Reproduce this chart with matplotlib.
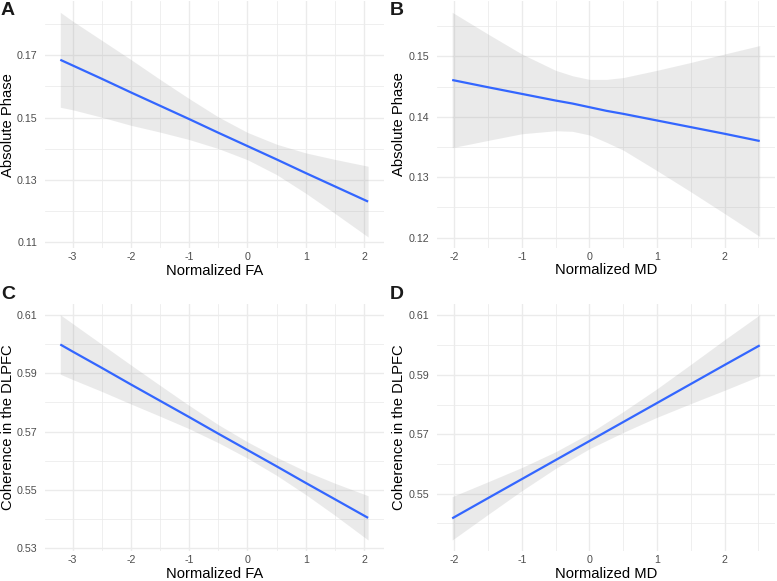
import matplotlib
matplotlib.use("Agg")
import matplotlib.pyplot as plt
from matplotlib.ticker import MultipleLocator, FixedLocator

plt.rcParams['font.family'] = ['Liberation Sans', 'DejaVu Sans']

# ---------------- data ----------------
# Panel A: Absolute Phase vs Normalized FA
a_x     = [-3.21, -3.0, -2.5, -2.0, -1.5, -1.0, -0.5, 0.0, 0.5, 1.0, 1.5, 2.07]
a_fit   = [0.1686, 0.1668, 0.1625, 0.1581, 0.1538, 0.1495, 0.1451, 0.1408, 0.1365, 0.1321, 0.1278, 0.1229]
a_upper = [0.1839, 0.1811, 0.1749, 0.1687, 0.1623, 0.1561, 0.1502, 0.1452, 0.1414, 0.1386, 0.1365, 0.1343]
a_lower = [0.1533, 0.1525, 0.1501, 0.1475, 0.1453, 0.1429, 0.1400, 0.1364, 0.1316, 0.1256, 0.1191, 0.1115]

# Panel B: Absolute Phase vs Normalized MD
b_x     = [-2.03, -1.5, -1.0, -0.5, -0.25, 0.0, 0.25, 0.5, 1.0, 1.5, 2.0, 2.52]
b_fit   = [0.1461, 0.1449, 0.1438, 0.1427, 0.1422, 0.1416, 0.1410, 0.1405, 0.1394, 0.1383, 0.1372, 0.1360]
b_upper = [0.1573, 0.1537, 0.1504, 0.1477, 0.1468, 0.1462, 0.1462, 0.1465, 0.1477, 0.1490, 0.1504, 0.1518]
b_lower = [0.1349, 0.1361, 0.1372, 0.1377, 0.1376, 0.1370, 0.1358, 0.1345, 0.1311, 0.1276, 0.1240, 0.1202]

# Panel C: Coherence in the DLPFC vs Normalized FA
c_x     = [-3.21, -3.0, -2.5, -2.0, -1.5, -1.0, -0.5, 0.0, 0.5, 1.0, 1.5, 2.07]
c_fit   = [0.5999, 0.5975, 0.5919, 0.5862, 0.5806, 0.5750, 0.5693, 0.5637, 0.5581, 0.5524, 0.5468, 0.5404]
c_upper = [0.6101, 0.6071, 0.6000, 0.5929, 0.5859, 0.5790, 0.5724, 0.5665, 0.5612, 0.5564, 0.5523, 0.5480]
c_lower = [0.5897, 0.5879, 0.5838, 0.5795, 0.5753, 0.5710, 0.5662, 0.5609, 0.5550, 0.5484, 0.5413, 0.5328]

# Panel D: Coherence in the DLPFC vs Normalized MD
d_x     = [-2.03, -1.5, -1.0, -0.5, 0.0, 0.5, 1.0, 1.5, 2.0, 2.52]
d_fit   = [0.5417, 0.5485, 0.5549, 0.5613, 0.5677, 0.5741, 0.5805, 0.5869, 0.5933, 0.5999]
d_upper = [0.5490, 0.5540, 0.5588, 0.5641, 0.5703, 0.5776, 0.5853, 0.5935, 0.6018, 0.6102]
d_lower = [0.5344, 0.5430, 0.5510, 0.5585, 0.5651, 0.5706, 0.5757, 0.5803, 0.5848, 0.5896]

fa_ticks = [-3, -2, -1, 0, 1, 2]
md_ticks = [-2, -1, 0, 1, 2]
a_yticks = [0.11, 0.13, 0.15, 0.17]
b_yticks = [0.12, 0.13, 0.14, 0.15]
c_yticks = [0.53, 0.55, 0.57, 0.59, 0.61]
d_yticks = [0.55, 0.57, 0.59, 0.61]

panel_letters = ['A', 'B', 'C', 'D']
x_titles = ['Normalized FA', 'Normalized MD', 'Normalized FA', 'Normalized MD']
y_titles = ['Absolute Phase', 'Absolute Phase', 'Coherence in the DLPFC', 'Coherence in the DLPFC']

# ---------------- figure ----------------
W, H = 777, 581
fig = plt.figure(figsize=(W / 100, H / 100), dpi=100)
fig.patch.set_facecolor('white')

def px_axes(x0, y0, x1, y1):
    return fig.add_axes([x0 / W, 1 - y1 / H, (x1 - x0) / W, (y1 - y0) / H])

axA = px_axes(44.9, 1.1, 383.5, 248.2)
axB = px_axes(436.8, 1.1, 775.1, 247.7)
axC = px_axes(44.9, 303.5, 383.5, 551.3)
axD = px_axes(436.8, 303.5, 775.1, 551.3)

panels = [
    (axA, a_x, a_fit, a_upper, a_lower, fa_ticks, a_yticks, 0.01, 0.5),
    (axB, b_x, b_fit, b_upper, b_lower, md_ticks, b_yticks, 0.005, 0.5),
    (axC, c_x, c_fit, c_upper, c_lower, fa_ticks, c_yticks, 0.01, 0.5),
    (axD, d_x, d_fit, d_upper, d_lower, md_ticks, d_yticks, 0.01, 0.5),
]

grid_col = '#EBEBEB'
for i, (ax, xs, fit, up, lo, xt, yt, ymin_step, xmin_step) in enumerate(panels):
    ax.set_facecolor('white')
    for s in ax.spines.values():
        s.set_visible(False)
    ax.fill_between(xs, lo, up, color='#999999', alpha=0.2, linewidth=0, zorder=2)
    ax.plot(xs, fit, color='#3366FF', linewidth=1.6, solid_capstyle='butt', zorder=3)

    # 5% expansion like ggplot
    xlo, xhi = min(xs), max(xs)
    ylo, yhi = min(lo), max(up)
    dx, dy = (xhi - xlo) * 0.05, (yhi - ylo) * 0.05
    ax.set_xlim(xlo - dx, xhi + dx)
    ax.set_ylim(ylo - dy, yhi + dy)

    ax.xaxis.set_major_locator(FixedLocator(xt))
    ax.yaxis.set_major_locator(FixedLocator(yt))
    ax.xaxis.set_minor_locator(MultipleLocator(xmin_step))
    ax.yaxis.set_minor_locator(MultipleLocator(ymin_step))
    ax.set_xticklabels([str(v) for v in xt])
    ax.set_yticklabels([f'{v:.2f}' for v in yt])

    ax.grid(which='major', color=grid_col, linewidth=1.0, zorder=0)
    ax.grid(which='minor', color=grid_col, linewidth=0.55, zorder=0)
    ax.set_axisbelow(True)
    ax.tick_params(which='both', length=0)
    ax.tick_params(axis='x', pad=3.0, labelsize=7.7, labelcolor='#4D4D4D')
    ax.tick_params(axis='y', pad=5.5, labelsize=7.7, labelcolor='#4D4D4D')

    ax.set_xlabel(x_titles[i], fontsize=10.6, color='black', va='center')
    ax.set_ylabel(y_titles[i], fontsize=10.6, color='black', va='center')
    bb = ax.get_position()
    axw = bb.width * W
    axh = bb.height * H
    ax.xaxis.set_label_coords(0.5, -22.5 / axh)
    ax.yaxis.set_label_coords(-(bb.x0 * W - (8 if i % 2 == 0 else 399) + 0) / axw
                              if False else ((8 if i % 2 == 0 else 399) - bb.x0 * W) / axw, 0.5)

# panel letters
letter_pos = [(1, 2), (390, 2), (1, 286), (390, 286)]
for L, (lx, ly) in zip(panel_letters, letter_pos):
    fig.text(lx / W, 1 - ly / H, L, fontsize=14, fontweight='bold', color='#1A1A1A',
             ha='left', va='top')

fig.savefig('out.png', dpi=100, facecolor='white')
